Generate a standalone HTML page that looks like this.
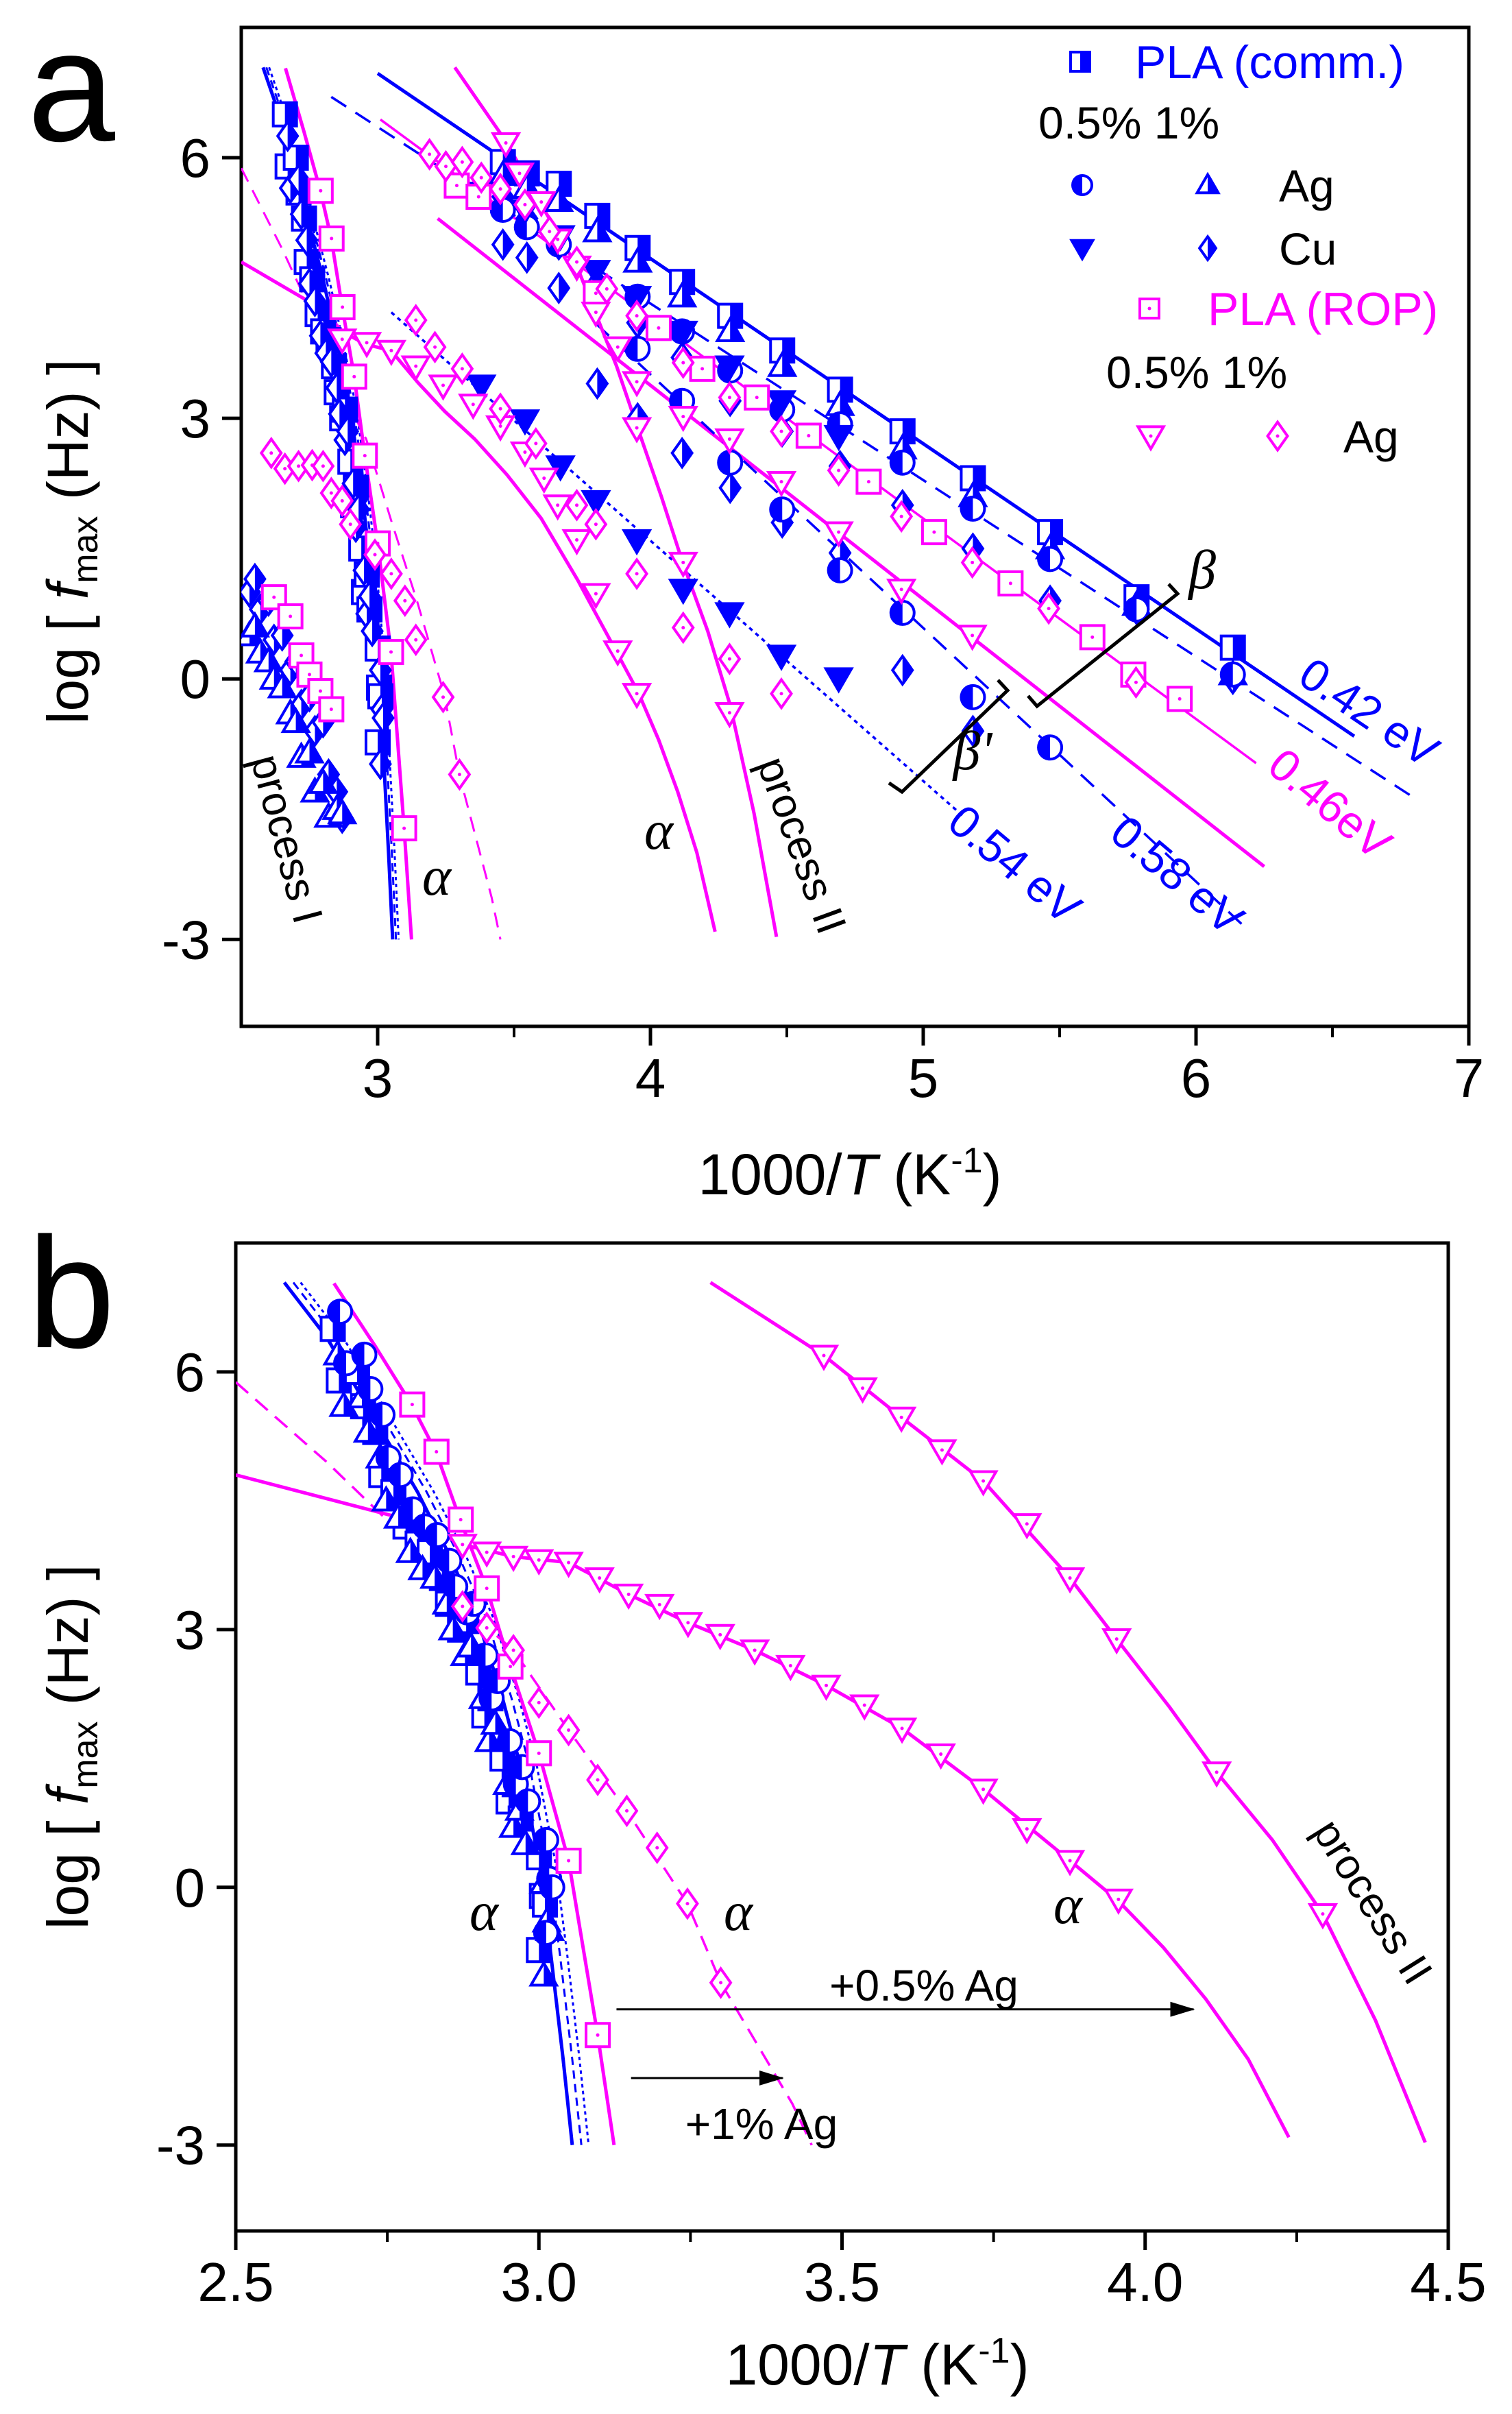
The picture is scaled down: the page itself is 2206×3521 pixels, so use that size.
<!DOCTYPE html>
<html><head><meta charset="utf-8"><style>
html,body{margin:0;padding:0;background:#fff}
svg{display:block;font-family:"Liberation Sans",sans-serif}
</style></head><body>
<svg id="fig" width="2206" height="3521" viewBox="0 0 2206 3521" xmlns="http://www.w3.org/2000/svg">
<defs>
<clipPath id="lh" clipPathUnits="objectBoundingBox"><rect x="0" y="0" width="0.5" height="1"/></clipPath>
<clipPath id="rh" clipPathUnits="objectBoundingBox"><rect x="0.5" y="0" width="0.5" height="1"/></clipPath>
<clipPath id="clipA"><rect x="352" y="40" width="1791" height="1457"/></clipPath>
<clipPath id="clipB"><rect x="344" y="1813" width="1769" height="1441"/></clipPath>
<marker id="ah" markerWidth="36" markerHeight="22" refX="34" refY="11" orient="auto" markerUnits="userSpaceOnUse" viewBox="0 0 36 22"><path d="M0,0 L36,11 L0,22 z" fill="#000"/></marker>
</defs>
<g id="panelA"></g>
<g id="panelB"></g>
</svg>
<script>
// ---------- Panel a data ----------
const aXTicks = [3,4,5,6,7];
const aYTicks = [-3,0,3,6];
const aCols = [3.459,3.547,3.664,3.805,3.953,4.116,4.292,4.483,4.695,4.924,5.182,5.465,5.782,6.135];
const aCommSq = [5.95,5.82,5.70,5.33,4.96,4.57,4.18,3.78,3.33,2.85,2.31,1.69,0.94,0.36];
const aAg1Tri = [5.80,5.65,5.50,5.15,4.80,4.40,4.00,3.60,3.15,2.65,2.10,1.50,0.85,0.05];
const aCu1Dia = [5.55,5.30,5.00,4.55,4.10,3.70,3.20,2.85,2.45,2.00,1.50,0.90,0.80,0.00];
const aCu1DiaLow = [5.00,4.85,4.50,3.40,3.00,2.60,2.20,1.80,1.45,0.10,-0.60,null,null,null];
const aAg05Circ = [5.40,5.20,5.00,4.40,3.80,3.20,2.49,1.95,1.25,0.76,-0.21,-0.79,null,null];
const aAg05CircUp = [null,null,null,null,4.40,4.00,3.55,3.10,2.93,2.49,1.96,1.38,0.80,0.05];
const aCuDownX = [3.38,3.54,3.67,3.80,3.95,4.12,4.29,4.48,4.69];
const aCuDownY = [3.38,2.98,2.45,2.05,1.60,1.03,0.76,0.27,0.01];
const aCuDownUpY = [5.60,5.40,5.10,4.70,4.40,4.00,3.60,3.20,2.80];
const aRopSqX = [3.29,3.37,3.80,4.03,4.19,4.39,4.58,4.80,5.04,5.32,5.62,5.77,5.94];
const aRopSqY = [5.68,5.55,4.44,4.04,3.57,3.24,2.80,2.27,1.69,1.10,0.48,0.05,-0.23];
const aRopTriBX = [3.47,3.52,3.60,3.66,3.73,3.80,3.88,3.95,4.12,4.29,4.48,4.69,4.92,5.18];
const aRopTriBY = [6.17,5.82,5.49,5.06,4.75,4.22,3.82,3.42,3.02,2.76,2.27,1.69,1.03,0.50];
const aRopTriAX = [2.87,2.96,3.05,3.14,3.24,3.35,3.45,3.54,3.61,3.66,3.73,3.80,3.88,3.95];
const aRopTriAY = [3.91,3.87,3.78,3.60,3.38,3.16,2.91,2.61,2.31,2.00,1.60,0.98,0.32,-0.17];
const aProcIITriX = [3.95,4.12,4.29];
const aProcIITriY = [2.89,1.34,-0.39];
const aRopDiaBX = [3.19,3.25,3.31,3.38,3.45,3.54,3.63,3.73,3.84,3.95,4.12,4.29,4.48,4.69,4.92,5.18,5.46,5.78];
const aRopDiaBY = [6.04,5.90,5.95,5.77,5.64,5.46,5.15,4.80,4.49,4.18,3.64,3.24,2.85,2.40,1.87,1.34,0.81,-0.04];
const aRopDiaAX = [3.14,3.21,3.31,3.45,3.58,3.73,3.80,3.95,4.12,4.29,4.48];
const aRopDiaAY = [4.13,3.82,3.57,3.11,2.71,2.00,1.78,1.21,0.59,0.23,-0.17];
const aDiaLowX = [2.61,2.66,2.71,2.76,2.80,2.83,2.87,2.90,2.99,3.05,3.10,3.14,3.24,3.30];
const aDiaLowY = [2.60,2.42,2.45,2.46,2.45,2.14,2.05,1.78,1.43,1.21,0.90,0.45,-0.21,-1.10];
const aProcISqX = [2.62,2.68,2.72,2.75,2.79,2.83];
const aProcISqY = [0.94,0.72,0.27,0.05,-0.14,-0.35];
const aProcIBlueX = [2.53,2.55,2.57,2.60,2.62,2.65,2.68,2.70,2.72,2.75,2.77,2.80,2.82,2.85,2.87];
const aProcIBlueY = [1.00,1.15,0.80,0.90,0.45,0.50,0.10,0.20,-0.30,-0.20,-0.60,-0.50,-1.10,-1.30,-1.60];
const aProcIBlueY2 = [0.50,0.60,0.30,0.20,0.00,-0.10,-0.40,-0.50,-0.90,-0.85,-1.30,-1.20,-1.59,-1.50,-1.55];
// fitted lines (panel a)
const aLine042X = [3.0,6.58];   const aLine042Y = [6.97,-0.66];
const aLine042dX = [2.83,6.80]; const aLine042dY = [6.70,-1.37];
const aLine046X = [3.01,6.22];  const aLine046Y = [6.44,-0.97];
const aLineMagX = [3.22,6.25];  const aLineMagY = [5.30,-2.16];
const aLine058X = [3.80,6.17];  const aLine058Y = [4.09,-2.83];
const aLine054X = [3.05,5.15];  const aLine054Y = [4.22,-1.59];
// shared VFT curves
const blueCurveX = [2.58,2.65,2.70,2.75,2.80,2.85,2.90,2.94,2.97,3.00,3.02,3.04,3.055];
const blueCurveY = [7.04,6.40,5.80,5.20,4.60,3.90,3.10,2.20,1.40,0.30,-0.80,-2.00,-3.00];
const ropSqCurveX = [2.662,2.73,2.79,2.83,2.87,2.914,2.953,3.0,3.049,3.097,3.124];
const ropSqCurveY = [7.03,6.30,5.62,5.07,4.28,3.48,2.57,1.56,0.31,-1.72,-3.0];
const ropTriCurveX = [2.5,2.794,2.874,2.958,3.049,3.148,3.246,3.356,3.474,3.599,3.733,3.805,3.876,3.956,4.03,4.10,4.17,4.237];
const ropTriCurveY = [4.80,4.26,3.99,3.85,3.78,3.41,3.08,2.76,2.35,1.85,1.14,0.72,0.31,-0.16,-0.70,-1.30,-2.00,-2.91];
const procIICurveX = [3.283,3.47,3.598,3.733,3.876,3.953,4.04,4.118,4.21,4.293,4.38,4.462];
const procIICurveY = [7.04,6.19,5.47,4.73,3.60,2.89,2.10,1.34,0.55,-0.31,-1.55,-2.97];
const diaCurveX = [2.5,2.65,2.778,2.874,2.958,3.049,3.145,3.245,3.30,3.418,3.45];
const diaCurveY = [5.88,4.95,4.08,3.27,2.76,1.83,0.89,-0.19,-1.11,-2.52,-3.0];
// ---------- Panel b data ----------
const bXTicks = [2.5,3.0,3.5,4.0,4.5];
const bXLabels = ["2.5","3.0","3.5","4.0","4.5"];
const bYTicks = [-3,0,3,6];
const bBlueX = [2.66,2.67,2.70,2.71,2.73,2.74,2.76,2.78,2.80,2.82,2.84,2.85,2.87,2.88,2.90,2.91,2.92,2.94,2.95,2.96,2.97,3.00,3.005,3.01,3.00];
const bBlueY = [6.50,5.90,6.00,5.60,5.30,4.80,4.60,4.20,4.00,3.90,3.60,3.30,3.00,3.10,2.50,2.00,2.20,1.50,1.00,1.20,0.80,0.35,-0.10,-0.20,-0.73];
const bSqX = [2.791,2.831,2.871,2.914,2.953,3.0,3.049,3.097];
const bSqY = [5.62,5.07,4.28,3.48,2.57,1.56,0.31,-1.72];
const bTriX = [2.874,2.914,2.958,3.0,3.049,3.10,3.148,3.199,3.246,3.299,3.356,3.415,3.474,3.537,3.599,3.663,3.733,3.805,3.876,3.956];
const bTriY = [3.99,3.90,3.85,3.81,3.78,3.60,3.41,3.29,3.08,2.94,2.76,2.58,2.35,2.12,1.85,1.55,1.14,0.68,0.31,-0.14];
const bTri2X = [3.47,3.534,3.598,3.665,3.733,3.805,3.876,3.953,4.118,4.293];
const bTri2Y = [6.19,5.81,5.47,5.09,4.73,4.23,3.60,2.89,1.34,-0.31];
const bDiaX = [2.874,2.914,2.958,3.0,3.049,3.097,3.145,3.195,3.245,3.30];
const bDiaY = [3.27,3.02,2.76,2.15,1.83,1.25,0.89,0.46,-0.19,-1.11];

const NS = "http://www.w3.org/2000/svg";
const BLUE = "#0000ff", MAG = "#ff00ff";
function el(tag, attrs, parent){
  const e = document.createElementNS(NS, tag);
  for (const k in attrs) e.setAttribute(k, attrs[k]);
  parent.appendChild(e); return e;
}
function shapePath(type, x, y, s){
  const h = s/2;
  if (type==='sq') return `M${x-h},${y-h}H${x+h}V${y+h}H${x-h}Z`;
  if (type==='up') return `M${x},${y-h*1.1}L${x+h*1.1},${y+h*0.8}L${x-h*1.1},${y+h*0.8}Z`;
  if (type==='dn') return `M${x-h*1.1},${y-h*0.8}L${x+h*1.1},${y-h*0.8}L${x},${y+h*1.1}Z`;
  if (type==='dia') return `M${x},${y-h*1.2}L${x+h*0.85},${y}L${x},${y+h*1.2}L${x-h*0.85},${y}Z`;
  return `M${x-h},${y}A${h},${h} 0 1 0 ${x+h},${y}A${h},${h} 0 1 0 ${x-h},${y}Z`;
}
function marker(g, type, x, y, color, mode, name, s){
  s = s || 34;
  const grp = el('g', {}, g);
  
  
  const d = shapePath(type, x, y, s);
  el('path', {d:d, fill:'#fff', stroke:color, 'stroke-width':4}, grp);
  if (mode==='left' || mode==='right'){
    el('path', {d:d, fill:color, stroke:color, 'stroke-width':4, 'clip-path': mode==='left'?'url(#lh)':'url(#rh)'}, grp);
  } else if (mode==='full'){
    el('path', {d:d, fill:color}, grp);
  } else if (mode==='dot'){
    el('circle', {cx:x, cy:y, r:2.5, fill:color}, grp);
  }
  return grp;
}
function txt(g, x, y, str, size, opts){
  opts = opts || {};
  const t = el('text', {x:x, y:y, 'font-size':size, fill:opts.fill||'#000', 'text-anchor':opts.anchor||'start'}, g);
  if (opts.rot !== undefined) t.setAttribute('transform', `rotate(${opts.rot} ${x} ${y})`);
  if (opts.italic) t.setAttribute('font-style','italic');
  if (opts.serif) t.setAttribute('font-family','"Liberation Serif",serif');
  t.textContent = str; return t;
}
function poly(g, xs, ys, sx, sy, attrs, name){
  const pts = xs.map((v,i)=>`${sx(v).toFixed(1)},${sy(ys[i]).toFixed(1)}`).join(' ');
  const p = el('polyline', Object.assign({points:pts, fill:'none', 'stroke-linejoin':'round', 'stroke-linecap':'butt'}, attrs), g);
  
  
  return p;
}
function series(g, xs, ys, sx, sy, type, color, mode, name, s){
  const sg = el('g', {}, g);
  
  
  xs.forEach((v,i)=>{ if (ys[i]!==null && ys[i]!==undefined) marker(sg, type, sx(v), sy(ys[i]), color, mode, name+'-point', s); });
}
function axes(g, L, R, T, B, sx, sy, xt, xl, yt, minorX, labY){
  const ax = el('g', {}, g);
  
  
  el('rect', {x:L, y:T, width:R-L, height:B-T, fill:'none', stroke:'#000', 'stroke-width':5}, ax);
  xt.forEach((v,i)=>{
    el('line', {x1:sx(v), x2:sx(v), y1:B, y2:B+28, stroke:'#000', 'stroke-width':5}, ax);
    const t = txt(ax, sx(v), labY, xl[i], 80, {anchor:'middle'});
    
    
  });
  minorX.forEach(v=>{ el('line', {x1:sx(v), x2:sx(v), y1:B, y2:B+16, stroke:'#000', 'stroke-width':4}, ax); });
  yt.forEach(v=>{
    el('line', {x1:L-28, x2:L, y1:sy(v), y2:sy(v), stroke:'#000', 'stroke-width':5}, ax);
    const t = txt(ax, L-45, sy(v)+28, String(v), 80, {anchor:'end'});
    
    
  });
}
function yTitle(g, x, y){
  const t = el('text', {x:x, y:y, 'font-size':84, 'text-anchor':'middle', transform:`rotate(-90 ${x} ${y})`}, g);
  
  
  t.innerHTML = 'log [ <tspan font-style="italic">f</tspan><tspan font-size="52" dy="14">max</tspan><tspan dy="-14"> (Hz) ]</tspan>';
}
function xTitle(g, x, y){
  const t = el('text', {x:x, y:y, 'font-size':84, 'text-anchor':'middle'}, g);
  
  
  t.innerHTML = '1000/<tspan font-style="italic">T</tspan> (K<tspan font-size="52" dy="-32">-1</tspan><tspan dy="32">)</tspan>';
}

// ================= Panel a =================
(function(){
  const g = document.getElementById('panelA');
  const L=352,R=2143,T=40,B=1497;
  const sx = v => L + (v-2.5)/(7-2.5)*(R-L);
  const sy = v => B - (v+4)/(7.5+4)*(B-T);
  axes(g, L,R,T,B, sx, sy, aXTicks, aXTicks.map(String), aYTicks, [3.5,4.5,5.5,6.5], 1600);
  const pa = el('g', {'clip-path':'url(#clipA)'}, g);
  poly(pa, aLine042X, aLine042Y, sx, sy, {stroke:BLUE,'stroke-width':5}, 'line-0.42ev');
  poly(pa, aLine042dX, aLine042dY, sx, sy, {stroke:BLUE,'stroke-width':3.5,'stroke-dasharray':'26 16'}, 'line-0.42ev-dashed');
  poly(pa, aLine046X, aLine046Y, sx, sy, {stroke:MAG,'stroke-width':3.5}, 'line-0.46ev');
  poly(pa, aLineMagX, aLineMagY, sx, sy, {stroke:MAG,'stroke-width':5}, 'line-rop-beta-prime');
  poly(pa, aLine058X, aLine058Y, sx, sy, {stroke:BLUE,'stroke-width':3.5,'stroke-dasharray':'26 16'}, 'line-0.58ev');
  poly(pa, aLine054X, aLine054Y, sx, sy, {stroke:BLUE,'stroke-width':3.5,'stroke-dasharray':'6 6'}, 'line-0.54ev');
  poly(pa, blueCurveX, blueCurveY, sx, sy, {stroke:BLUE,'stroke-width':5}, 'blue-alpha-curve');
  poly(pa, blueCurveX.map(v=>v+0.012), blueCurveY, sx, sy, {stroke:BLUE,'stroke-width':3,'stroke-dasharray':'12 8'}, 'blue-alpha-curve-dashed');
  poly(pa, blueCurveX.map(v=>v+0.022), blueCurveY, sx, sy, {stroke:BLUE,'stroke-width':3,'stroke-dasharray':'5 5'}, 'blue-alpha-curve-dotted');
  poly(pa, ropSqCurveX, ropSqCurveY, sx, sy, {stroke:MAG,'stroke-width':5}, 'rop-alpha-curve');
  poly(pa, ropTriCurveX, ropTriCurveY, sx, sy, {stroke:MAG,'stroke-width':5}, 'rop-ag05-alpha-curve');
  poly(pa, procIICurveX, procIICurveY, sx, sy, {stroke:MAG,'stroke-width':5}, 'process-ii-curve');
  poly(pa, diaCurveX, diaCurveY, sx, sy, {stroke:MAG,'stroke-width':3,'stroke-dasharray':'22 14'}, 'rop-ag1-alpha-curve');
  series(pa, aCols, aCommSq, sx, sy, 'sq', BLUE, 'right', 'pla-comm-beta');
  series(pa, aCols, aAg1Tri, sx, sy, 'up', BLUE, 'right', 'ag1-beta');
  series(pa, aCols, aCu1Dia, sx, sy, 'dia', BLUE, 'right', 'cu1-beta');
  series(pa, aCols, aCu1DiaLow, sx, sy, 'dia', BLUE, 'right', 'cu1-beta-low');
  series(pa, aCols, aAg05Circ, sx, sy, 'circ', BLUE, 'left', 'ag05-beta-prime');
  series(pa, aCols, aAg05CircUp, sx, sy, 'circ', BLUE, 'left', 'ag05-beta');
  series(pa, aCuDownX, aCuDownY, sx, sy, 'dn', BLUE, 'full', 'cu05-beta-prime');
  series(pa, aCuDownX, aCuDownUpY, sx, sy, 'dn', BLUE, 'full', 'cu05-beta');
  series(pa, bBlueX, bBlueY, sx, sy, 'sq', BLUE, 'right', 'blue-alpha-points');
  series(pa, bBlueX.map(v=>v+0.01), bBlueY.map(v=>v-0.25), sx, sy, 'dia', BLUE, 'right', 'blue-alpha-points-2');
  series(pa, aProcIBlueX, aProcIBlueY, sx, sy, 'dia', BLUE, 'right', 'process-i-blue');
  series(pa, aProcIBlueX, aProcIBlueY2, sx, sy, 'up', BLUE, 'right', 'process-i-blue-2');
  series(pa, aRopSqX, aRopSqY, sx, sy, 'sq', MAG, 'dot', 'rop-beta-squares');
  series(pa, bSqX, bSqY, sx, sy, 'sq', MAG, 'dot', 'rop-alpha-squares');
  series(pa, aProcISqX, aProcISqY, sx, sy, 'sq', MAG, 'dot', 'rop-process-i-squares');
  series(pa, aRopTriBX, aRopTriBY, sx, sy, 'dn', MAG, 'dot', 'rop-ag05-beta');
  series(pa, aRopTriAX, aRopTriAY, sx, sy, 'dn', MAG, 'dot', 'rop-ag05-alpha');
  series(pa, aProcIITriX, aProcIITriY, sx, sy, 'dn', MAG, 'dot', 'rop-ag05-process-ii');
  series(pa, aRopDiaBX, aRopDiaBY, sx, sy, 'dia', MAG, 'dot', 'rop-ag1-beta');
  series(pa, aRopDiaAX, aRopDiaAY, sx, sy, 'dia', MAG, 'dot', 'rop-ag1-alpha');
  series(pa, aDiaLowX, aDiaLowY, sx, sy, 'dia', MAG, 'dot', 'rop-ag1-low');
  const br1 = el('polyline', {points:'1500,1015 1513,1030 1718,866 1705,852', fill:'none', stroke:'#000','stroke-width':5}, g);
   
  const br2 = el('polyline', {points:'1297,1142 1316,1155 1470,1007 1456,992', fill:'none', stroke:'#000','stroke-width':5}, g);
   
  const an = [
    [1985,1058,'0.42 eV',BLUE,34],[1926,1190,'0.46eV',MAG,40],[1466,1278,'0.54 eV',BLUE,40],[1703,1294,'0.58 eV',BLUE,40]
  ];
  an.forEach(a=>{ const t = txt(g, a[0], a[1], a[2], 66, {fill:a[3], anchor:'middle', rot:a[4]});
      });
  let t;
  t = txt(g, 1754, 858, 'β', 80, {italic:true, serif:true, anchor:'middle'});  
  t = txt(g, 1419, 1122, "β'", 80, {italic:true, serif:true, anchor:'middle'});  
  t = txt(g, 637, 1305, 'α', 80, {italic:true, serif:true, anchor:'middle'});  
  t = txt(g, 961, 1238, 'α', 80, {italic:true, serif:true, anchor:'middle'});  
  t = txt(g, 398, 1229, 'process I', 62, {anchor:'middle', rot:75});  
  t = txt(g, 1150, 1240, 'process II', 62, {anchor:'middle', rot:70});  
  const lg = el('g', {}, g);
   
  marker(lg,'sq',1576,90,BLUE,'right','legend-pla-comm-marker',28);
  t = txt(lg, 1656, 114, 'PLA (comm.)', 68, {fill:BLUE});  
  t = txt(lg, 1515, 202, '0.5%   1%', 66);  
  marker(lg,'circ',1579,270,BLUE,'left','legend-ag05-marker',28);
  marker(lg,'up',1762,270,BLUE,'right','legend-ag1-marker',28);
  t = txt(lg, 1866, 294, 'Ag', 66);  
  marker(lg,'dn',1579,362,BLUE,'full','legend-cu05-marker',28);
  marker(lg,'dia',1762,362,BLUE,'right','legend-cu1-marker',28);
  t = txt(lg, 1866, 386, 'Cu', 66);  
  marker(lg,'sq',1677,450,MAG,'dot','legend-pla-rop-marker',28);
  t = txt(lg, 1762, 474, 'PLA (ROP)', 68, {fill:MAG});  
  t = txt(lg, 1614, 566, '0.5%   1%', 66);  
  marker(lg,'dn',1679,636,MAG,'dot','legend-rop-ag05-marker',34);
  marker(lg,'dia',1864,636,MAG,'dot','legend-rop-ag1-marker',34);
  t = txt(lg, 1960, 660, 'Ag', 66);  
  t = txt(g, 40, 205, 'a', 230);  
  yTitle(g, 128, 790);
  xTitle(g, 1240, 1742);
})();

// ================= Panel b =================
(function(){
  const g = document.getElementById('panelB');
  const L=344,R=2113,T=1813,B=3254;
  const sx = v => L + (v-2.5)/(4.5-2.5)*(R-L);
  const sy = v => B - (v+4)/(7.5+4)*(B-T);
  axes(g, L,R,T,B, sx, sy, bXTicks, bXLabels, bYTicks, [2.75,3.25,3.75,4.25], 3356);
  const pb = el('g', {'clip-path':'url(#clipB)'}, g);
  poly(pb, blueCurveX, blueCurveY, sx, sy, {stroke:BLUE,'stroke-width':5}, 'blue-alpha-curve');
  poly(pb, blueCurveX.map(v=>v+0.015), blueCurveY, sx, sy, {stroke:BLUE,'stroke-width':3,'stroke-dasharray':'12 8'}, 'blue-alpha-curve-dashed');
  poly(pb, blueCurveX.map(v=>v+0.027), blueCurveY, sx, sy, {stroke:BLUE,'stroke-width':3,'stroke-dasharray':'5 5'}, 'blue-alpha-curve-dotted');
  poly(pb, ropSqCurveX, ropSqCurveY, sx, sy, {stroke:MAG,'stroke-width':5}, 'rop-alpha-curve');
  poly(pb, ropTriCurveX, ropTriCurveY, sx, sy, {stroke:MAG,'stroke-width':5}, 'rop-ag05-alpha-curve');
  poly(pb, procIICurveX, procIICurveY, sx, sy, {stroke:MAG,'stroke-width':5}, 'process-ii-curve');
  poly(pb, diaCurveX, diaCurveY, sx, sy, {stroke:MAG,'stroke-width':3.5,'stroke-dasharray':'24 14'}, 'rop-ag1-alpha-curve');
  series(pb, bBlueX, bBlueY, sx, sy, 'sq', BLUE, 'right', 'blue-alpha-squares');
  series(pb, bBlueX.map(v=>v+0.008), bBlueY.map(v=>v-0.3), sx, sy, 'up', BLUE, 'right', 'blue-alpha-triangles');
  series(pb, bBlueX.map(v=>v+0.012), bBlueY.map(v=>v+0.2), sx, sy, 'circ', BLUE, 'left', 'blue-alpha-circles');
  series(pb, bSqX, bSqY, sx, sy, 'sq', MAG, 'dot', 'rop-alpha-squares');
  series(pb, bTriX, bTriY, sx, sy, 'dn', MAG, 'dot', 'rop-ag05-alpha');
  series(pb, bTri2X, bTri2Y, sx, sy, 'dn', MAG, 'dot', 'rop-ag05-process-ii');
  series(pb, bDiaX, bDiaY, sx, sy, 'dia', MAG, 'dot', 'rop-ag1-alpha');
  let t;
  const ar1 = el('line', {x1:sx(3.128), y1:sy(-1.42), x2:sx(4.08), y2:sy(-1.42), stroke:'#000','stroke-width':3,'marker-end':'url(#ah)'}, g);
   
  const ar2 = el('line', {x1:sx(3.152), y1:sy(-2.22), x2:sx(3.402), y2:sy(-2.22), stroke:'#000','stroke-width':3,'marker-end':'url(#ah)'}, g);
   
  t = txt(g, 1348, 2918, '+0.5% Ag', 64, {anchor:'middle'});  
  t = txt(g, 1111, 3120, '+1% Ag', 64, {anchor:'middle'});  
  t = txt(g, 706, 2815, 'α', 80, {italic:true, serif:true, anchor:'middle'});  
  t = txt(g, 1077, 2815, 'α', 80, {italic:true, serif:true, anchor:'middle'});  
  t = txt(g, 1558, 2805, 'α', 80, {italic:true, serif:true, anchor:'middle'});  
  t = txt(g, 1985, 2785, 'process II', 62, {anchor:'middle', rot:58});  
  t = txt(g, 40, 1965, 'b', 230);  
  yTitle(g, 128, 2548);
  xTitle(g, 1280, 3478);
})();
</script>
</body></html>
